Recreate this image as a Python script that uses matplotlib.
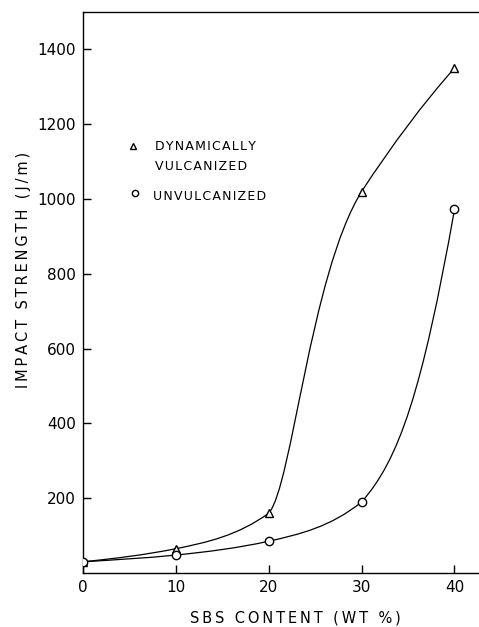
import matplotlib
matplotlib.use("Agg")
import matplotlib.pyplot as plt
from matplotlib.path import Path
from matplotlib.patches import PathPatch

# SBS content (wt %) and notched impact strength (J/m)
sbs_content = [0, 10, 20, 30, 40]
dyn_vulcanized = [30, 65, 160, 1020, 1350]
unvulcanized = [30, 48, 85, 190, 972]

x_ticks = [0, 10, 20, 30, 40]
y_ticks = [200, 400, 600, 800, 1000, 1200, 1400]

# hand-drawn style curve: per segment (slope out, arm, slope in, arm)
dyn_shape = [(2.5, 1 / 3, 5, 1 / 3), (5, 1 / 3, 18, 1 / 3),
             (28, 0.25, 40, 0.55), (38, 1 / 3, 28, 1 / 3)]
unv_shape = [(1.5, 1 / 3, 2.5, 1 / 3), (2.5, 1 / 3, 5.5, 1 / 3),
             (5.5, 1 / 3, 20, 1 / 3), (28, 0.4, 140, 0.35)]


def smooth_path(xs, ys, shape):
    verts = [(xs[0], ys[0])]
    codes = [Path.MOVETO]
    for i, (m0, a, m1, b) in enumerate(shape):
        x0, y0, x1, y1 = xs[i], ys[i], xs[i + 1], ys[i + 1]
        h = x1 - x0
        verts += [(x0 + a * h, y0 + a * h * m0),
                  (x1 - b * h, y1 - b * h * m1),
                  (x1, y1)]
        codes += [Path.CURVE4] * 3
    return Path(verts, codes)


def spaced(s, sep="\u2009"):
    return sep.join(s)


W, H = 479, 627
fig = plt.figure(figsize=(W / 100, H / 100), dpi=100)
ax = fig.add_axes([83 / W, 1 - 573 / H, 1 - 83 / W, (573 - 12) / H])

for ys, shape in [(dyn_vulcanized, dyn_shape), (unvulcanized, unv_shape)]:
    ax.add_patch(PathPatch(smooth_path(sbs_content, ys, shape),
                           fill=False, ec="black", lw=0.9, zorder=2))

ax.plot(sbs_content, dyn_vulcanized, ls="none", marker="^", ms=6,
        mfc="white", mec="black", mew=1.0, zorder=3)
ax.plot(sbs_content, unvulcanized, ls="none", marker="o", ms=6,
        mfc="white", mec="black", mew=1.0, zorder=3)

ax.set_xlim(0, 42.64)
ax.set_ylim(0, 1500)
ax.set_xticks(x_ticks)
ax.set_yticks(y_ticks)
ax.tick_params(direction="in", length=6, width=1.0, labelsize=11,
               pad=5, colors="black")
ax.spines["right"].set_visible(False)
for s in ["left", "top", "bottom"]:
    ax.spines[s].set_linewidth(1.0)

# legend drawn by hand
ax.plot([133 / W], [1 - 146 / H], transform=fig.transFigure, marker="^",
        ms=5, mfc="white", mec="black", mew=1.0, clip_on=False)
ax.plot([135 / W], [1 - 193 / H], transform=fig.transFigure, marker="o",
        ms=4.5, mfc="white", mec="black", mew=1.0, clip_on=False)
leg_kw = dict(fontsize=9, ha="left", va="center")
fig.text(155 / W, 1 - 146 / H, spaced("DYNAMICALLY", "\u200a"), **leg_kw)
fig.text(155 / W, 1 - 166 / H, spaced("VULCANIZED", "\u200a"), **leg_kw)
fig.text(153 / W, 1 - 196 / H, spaced("UNVULCANIZED", "\u200a"), **leg_kw)

fig.text(295 / W, 1 - 618 / H, spaced("SBS CONTENT (WT %)"),
         fontsize=10.5, ha="center", va="center")
fig.text(24 / W, 1 - 270 / H, spaced("IMPACT STRENGTH (J/m)"),
         fontsize=10.5, rotation=90, ha="center", va="center")

fig.savefig("out.png", dpi=100)
